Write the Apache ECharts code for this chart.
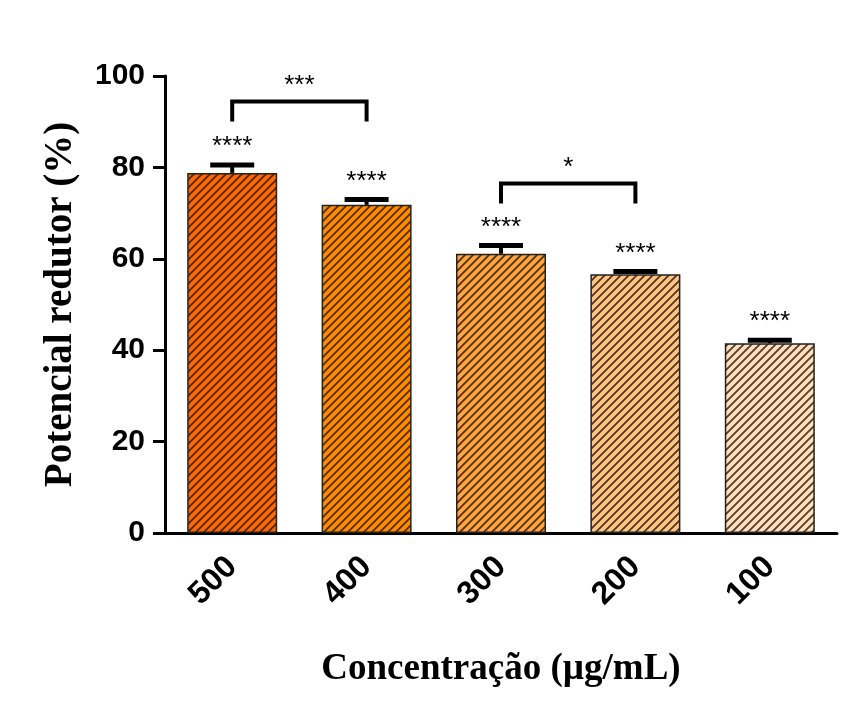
<!DOCTYPE html>
<html lang="pt">
<head>
  <meta charset="UTF-8">
  <script src="https://cdn.jsdelivr.net/npm/echarts@6/dist/echarts.min.js"></script>
  <title>Potencial redutor</title>
  <style>
    html, body { margin: 0; padding: 0; background: #fff; }
    #chart { width: 848px; height: 706px; }
  </style>
</head>
<body>
  <div id="chart"></div>
  <script>
    // dados
    const categories = ['500', '400', '300', '200', '100'];
    const means = [78.8, 71.8, 61.1, 56.6, 41.5];
    const errors = [1.7, 1.2, 1.8, 0.6, 0.7];
    const stars = ['****', '****', '****', '****', '****'];
    // colchetes de comparação: [de, até, altura, texto]
    const brackets = [
      [0, 1, 94.4, '***'],
      [2, 3, 76.5, '*']
    ];
    const barColors = ['#ff6a00', '#ff8c00', '#ffa544', '#ffc484', '#ffdfbd'];

    // textura hachurada "/"
    function hatch(fill) {
      const c = document.createElement('canvas');
      const s = 8;
      c.width = s; c.height = s;
      const g = c.getContext('2d');
      g.fillStyle = fill;
      g.fillRect(0, 0, s, s);
      g.strokeStyle = 'rgba(40,20,0,0.8)';
      g.lineWidth = 1.8;
      g.beginPath();
      g.moveTo(-1, s + 1); g.lineTo(s + 1, -1);
      g.moveTo(-1, 1); g.lineTo(1, -1);
      g.moveTo(s - 1, s + 1); g.lineTo(s + 1, s - 1);
      g.stroke();
      return { image: c, repeat: 'repeat' };
    }

    const chart = echarts.init(document.getElementById('chart'));
    const sans = 'Liberation Sans';
    const serif = 'Liberation Serif';

    chart.setOption({
      animation: false,
      grid: { left: 165, right: 11, top: 76, bottom: 173 },
      xAxis: {
        type: 'category',
        data: categories,
        name: 'Concentração (µg/mL)',
        nameLocation: 'middle',
        nameGap: 118,
        nameTextStyle: { fontFamily: serif, fontWeight: 'bold', fontSize: 37, color: '#000' },
        axisLine: { lineStyle: { color: '#000', width: 3 } },
        axisTick: { alignWithLabel: true, length: 12, lineStyle: { color: '#000', width: 3 } },
        axisLabel: { rotate: 45, margin: 29, fontFamily: sans, fontWeight: 'bold', fontSize: 32, color: '#000' }
      },
      yAxis: {
        type: 'value',
        min: 0, max: 100, interval: 20,
        name: 'Potencial redutor (%)',
        nameLocation: 'middle',
        nameGap: 85,
        nameTextStyle: { fontFamily: serif, fontWeight: 'bold', fontSize: 39, color: '#000' },
        splitLine: { show: false },
        axisLine: { show: true, lineStyle: { color: '#000', width: 3 } },
        axisTick: { show: true, length: 12, lineStyle: { color: '#000', width: 3 } },
        axisLabel: { margin: 20, fontFamily: sans, fontWeight: 'bold', fontSize: 30, color: '#000' }
      },
      series: [
        {
          type: 'bar',
          barWidth: 90,
          data: means.map((v, i) => ({
            value: v,
            itemStyle: { color: hatch(barColors[i]), borderColor: '#222', borderWidth: 1.5 }
          }))
        },
        {
          // barras de erro + asteriscos
          type: 'custom',
          data: means.map((v, i) => [i, v, errors[i]]),
          z: 5,
          renderItem: function (params, api) {
            const i = api.value(0);
            const base = api.coord([i, api.value(1)]);
            const top = api.coord([i, api.value(1) + api.value(2)]);
            const half = 22;
            return {
              type: 'group',
              children: [
                { type: 'line', shape: { x1: base[0], y1: base[1], x2: top[0], y2: top[1] }, style: { stroke: '#000', lineWidth: 4 } },
                { type: 'line', shape: { x1: top[0] - half, y1: top[1], x2: top[0] + half, y2: top[1] }, style: { stroke: '#000', lineWidth: 5 } },
                { type: 'text', style: { text: stars[params.dataIndex], x: top[0], y: top[1] - 18, align: 'center', verticalAlign: 'middle', font: '26px "Liberation Sans"', fill: '#000' } }
              ]
            };
          }
        },
        {
          // colchetes
          type: 'custom',
          data: brackets,
          z: 5,
          renderItem: function (params, api) {
            const a = api.coord([api.value(0), api.value(2)]);
            const b = api.coord([api.value(1), api.value(2)]);
            const drop = 20;
            return {
              type: 'group',
              children: [
                { type: 'polyline', shape: { points: [[a[0], a[1] + drop], [a[0], a[1]], [b[0], b[1]], [b[0], b[1] + drop]] }, style: { stroke: '#000', lineWidth: 4, fill: null } },
                { type: 'text', style: { text: brackets[params.dataIndex][3], x: (a[0] + b[0]) / 2, y: a[1] - 16, align: 'center', verticalAlign: 'middle', font: '26px "Liberation Sans"', fill: '#000' } }
              ]
            };
          }
        }
      ]
    });
  </script>
</body>
</html>
